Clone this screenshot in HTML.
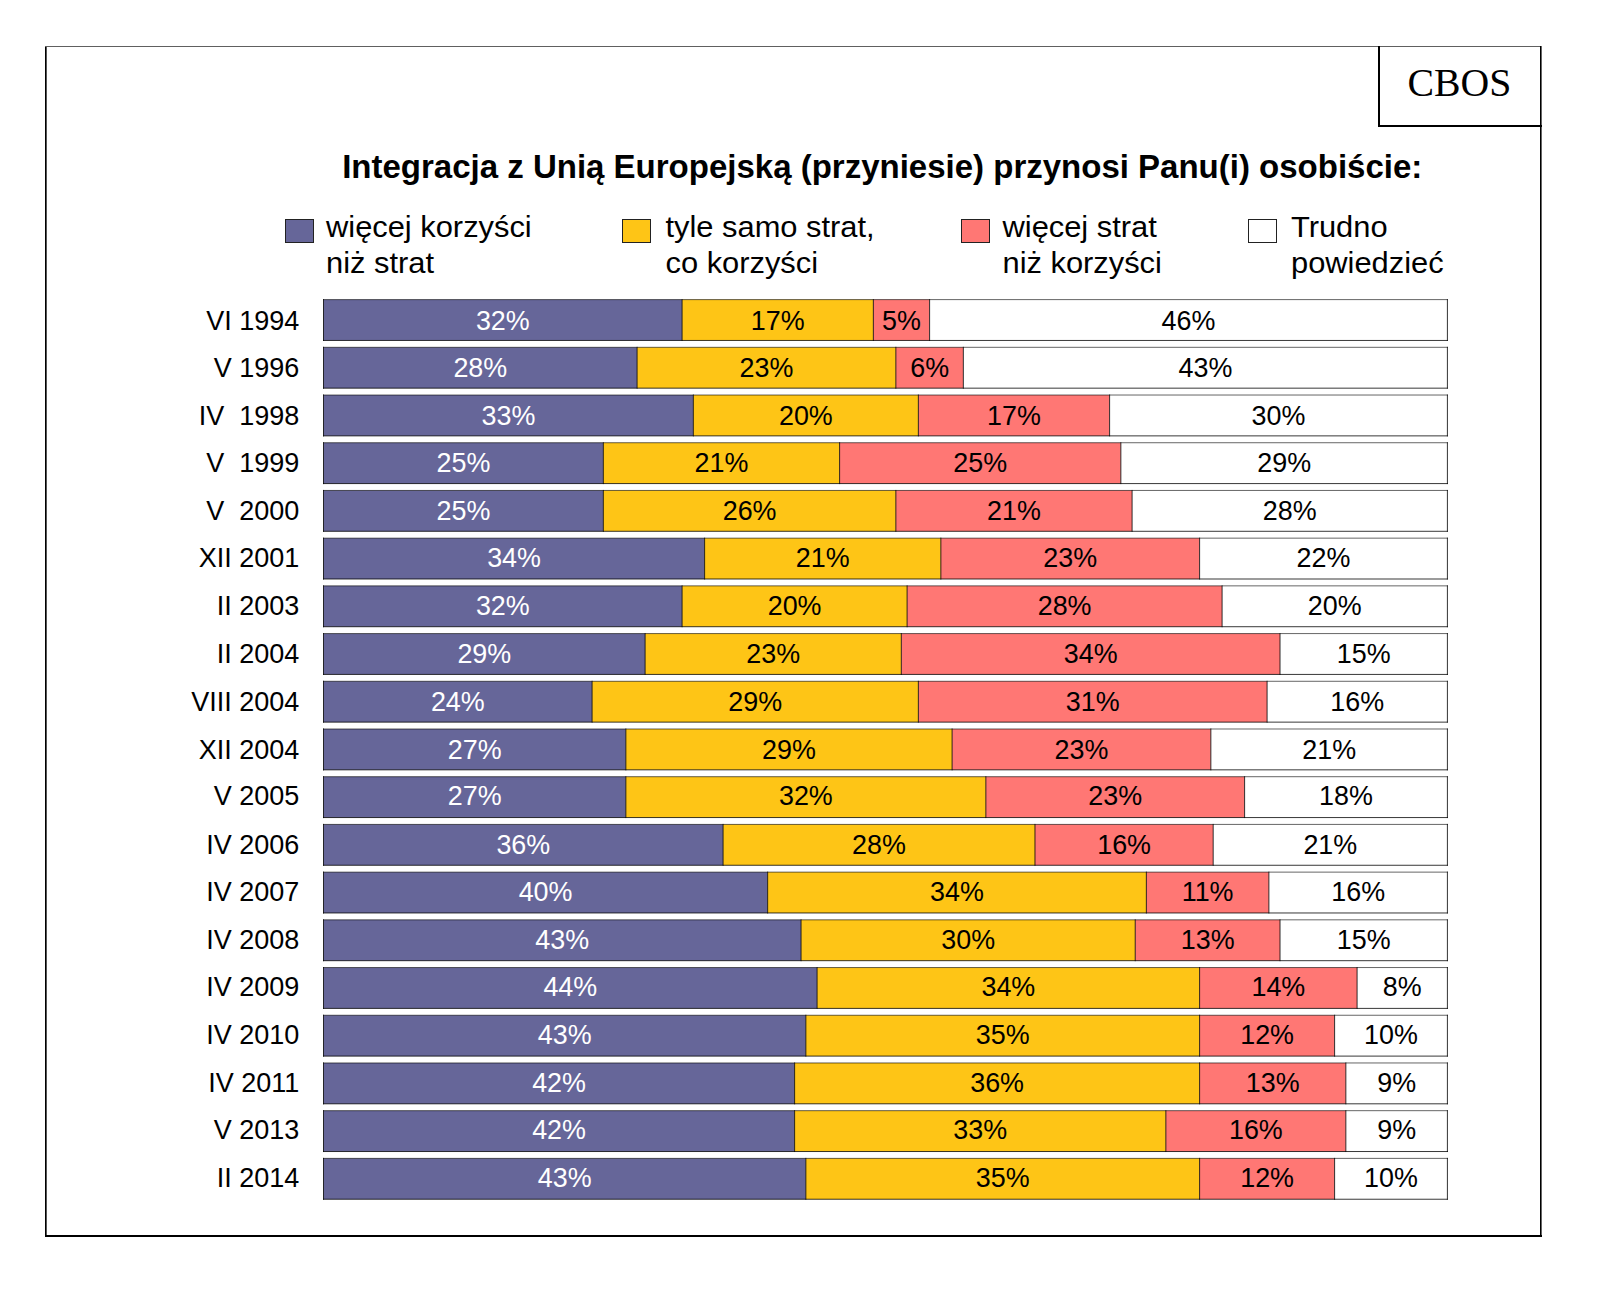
<!DOCTYPE html>
<html><head><meta charset="utf-8"><title>CBOS</title>
<style>
html,body{margin:0;padding:0;background:#fff;}
body{width:1600px;height:1293px;overflow:hidden;}
svg{display:block;}
.s{font-family:"Liberation Sans",Arial,sans-serif;}
.r{font-family:"Liberation Serif","Times New Roman",serif;}
</style></head><body>
<svg width="1600" height="1293" viewBox="0 0 1600 1293">
<rect x="0" y="0" width="1600" height="1293" fill="#fff"/>
<g shape-rendering="crispEdges">
<rect x="45" y="46" width="1" height="1190" fill="#000"/>
<rect x="46" y="46" width="1" height="1190" fill="#555"/>
<rect x="45" y="46" width="1496" height="1" fill="#606060"/>
<rect x="1540" y="46" width="1" height="1191" fill="#000"/>
<rect x="1541" y="46" width="1" height="1191" fill="#666"/>
<rect x="45" y="1235" width="1497" height="2" fill="#000"/>
<rect x="1378" y="46" width="2" height="81" fill="#000"/>
<rect x="1378" y="125" width="164" height="2" fill="#000"/>
</g>
<text class="r" transform="translate(1407.5 96) scale(0.97 1)" font-size="41" fill="#000">CBOS</text>
<text class="s" transform="translate(342.2 177.8)" font-size="33" font-weight="bold" fill="#000">Integracja z Unią Europejską (przyniesie) przynosi Panu(i) osobiście:</text>
<rect x="285.5" y="219.5" width="28" height="23" fill="#666699" stroke="#222" stroke-width="1"/>
<text class="s" transform="translate(326 236.9) scale(1.012 0.985)" font-size="30.5" fill="#000">więcej korzyści</text>
<text class="s" transform="translate(326 273.1) scale(1.012 0.985)" font-size="30.5" fill="#000">niż strat</text>
<rect x="622.5" y="219.5" width="28" height="23" fill="#FEC516" stroke="#222" stroke-width="1"/>
<text class="s" transform="translate(665.5 236.9) scale(1.012 0.985)" font-size="30.5" fill="#000">tyle samo strat,</text>
<text class="s" transform="translate(665.5 273.1) scale(1.012 0.985)" font-size="30.5" fill="#000">co korzyści</text>
<rect x="961.5" y="219.5" width="28" height="23" fill="#FF7774" stroke="#222" stroke-width="1"/>
<text class="s" transform="translate(1002.5 236.9) scale(1.012 0.985)" font-size="30.5" fill="#000">więcej strat</text>
<text class="s" transform="translate(1002.5 273.1) scale(1.012 0.985)" font-size="30.5" fill="#000">niż korzyści</text>
<rect x="1248.5" y="219.5" width="28" height="23" fill="#FFFFFF" stroke="#222" stroke-width="1"/>
<text class="s" transform="translate(1291 236.9) scale(1.012 0.985)" font-size="30.5" fill="#000">Trudno</text>
<text class="s" transform="translate(1291 273.1) scale(1.012 0.985)" font-size="30.5" fill="#000">powiedzieć</text>
<text class="s" transform="translate(299.2 329.9) scale(1 1.03)" font-size="27" text-anchor="end" fill="#000" xml:space="preserve">VI 1994</text>
<rect x="323.5" y="299.6" width="358.6" height="40.85" fill="#666699"/>
<rect x="682.1" y="299.6" width="191.25" height="40.85" fill="#FEC516"/>
<rect x="873.35" y="299.6" width="56.25" height="40.85" fill="#FF7774"/>
<rect x="929.6" y="299.6" width="517.8" height="40.85" fill="#FFFFFF"/>
<rect x="323" y="299.1" width="1124.9" height="1" fill="#000" fill-opacity="0.6"/>
<rect x="323" y="339.95" width="1124.9" height="1" fill="#000" fill-opacity="0.78"/>
<rect x="323" y="299.1" width="1" height="41.85" fill="#000" fill-opacity="0.8"/>
<rect x="681.6" y="299.1" width="1" height="41.85" fill="#000" fill-opacity="0.8"/>
<rect x="872.85" y="299.1" width="1" height="41.85" fill="#000" fill-opacity="0.8"/>
<rect x="929.1" y="299.1" width="1" height="41.85" fill="#000" fill-opacity="0.8"/>
<rect x="1446.9" y="299.1" width="1" height="41.85" fill="#000" fill-opacity="0.8"/>
<text class="s" transform="translate(502.8 329.9) scale(1 1.05)" font-size="26.9" text-anchor="middle" fill="#FFFFFF">32%</text>
<text class="s" transform="translate(777.73 329.9) scale(1 1.05)" font-size="26.9" text-anchor="middle" fill="#000000">17%</text>
<text class="s" transform="translate(901.48 329.9) scale(1 1.05)" font-size="26.9" text-anchor="middle" fill="#000000">5%</text>
<text class="s" transform="translate(1188.5 329.9) scale(1 1.05)" font-size="26.9" text-anchor="middle" fill="#000000">46%</text>
<text class="s" transform="translate(299.2 376.65) scale(1 1.03)" font-size="27" text-anchor="end" fill="#000" xml:space="preserve">V 1996</text>
<rect x="323.5" y="347.31" width="313.6" height="40.85" fill="#666699"/>
<rect x="637.1" y="347.31" width="258.75" height="40.85" fill="#FEC516"/>
<rect x="895.85" y="347.31" width="67.5" height="40.85" fill="#FF7774"/>
<rect x="963.35" y="347.31" width="484.05" height="40.85" fill="#FFFFFF"/>
<rect x="323" y="346.81" width="1124.9" height="1" fill="#000" fill-opacity="0.6"/>
<rect x="323" y="387.66" width="1124.9" height="1" fill="#000" fill-opacity="0.78"/>
<rect x="323" y="346.81" width="1" height="41.85" fill="#000" fill-opacity="0.8"/>
<rect x="636.6" y="346.81" width="1" height="41.85" fill="#000" fill-opacity="0.8"/>
<rect x="895.35" y="346.81" width="1" height="41.85" fill="#000" fill-opacity="0.8"/>
<rect x="962.85" y="346.81" width="1" height="41.85" fill="#000" fill-opacity="0.8"/>
<rect x="1446.9" y="346.81" width="1" height="41.85" fill="#000" fill-opacity="0.8"/>
<text class="s" transform="translate(480.3 376.65) scale(1 1.05)" font-size="26.9" text-anchor="middle" fill="#FFFFFF">28%</text>
<text class="s" transform="translate(766.48 376.65) scale(1 1.05)" font-size="26.9" text-anchor="middle" fill="#000000">23%</text>
<text class="s" transform="translate(929.6 376.65) scale(1 1.05)" font-size="26.9" text-anchor="middle" fill="#000000">6%</text>
<text class="s" transform="translate(1205.38 376.65) scale(1 1.05)" font-size="26.9" text-anchor="middle" fill="#000000">43%</text>
<text class="s" transform="translate(299.2 424.8) scale(1 1.03)" font-size="27" text-anchor="end" fill="#000" xml:space="preserve">IV  1998</text>
<rect x="323.5" y="395.02" width="369.85" height="40.85" fill="#666699"/>
<rect x="693.35" y="395.02" width="225" height="40.85" fill="#FEC516"/>
<rect x="918.35" y="395.02" width="191.25" height="40.85" fill="#FF7774"/>
<rect x="1109.6" y="395.02" width="337.8" height="40.85" fill="#FFFFFF"/>
<rect x="323" y="394.52" width="1124.9" height="1" fill="#000" fill-opacity="0.6"/>
<rect x="323" y="435.37" width="1124.9" height="1" fill="#000" fill-opacity="0.78"/>
<rect x="323" y="394.52" width="1" height="41.85" fill="#000" fill-opacity="0.8"/>
<rect x="692.85" y="394.52" width="1" height="41.85" fill="#000" fill-opacity="0.8"/>
<rect x="917.85" y="394.52" width="1" height="41.85" fill="#000" fill-opacity="0.8"/>
<rect x="1109.1" y="394.52" width="1" height="41.85" fill="#000" fill-opacity="0.8"/>
<rect x="1446.9" y="394.52" width="1" height="41.85" fill="#000" fill-opacity="0.8"/>
<text class="s" transform="translate(508.43 424.8) scale(1 1.05)" font-size="26.9" text-anchor="middle" fill="#FFFFFF">33%</text>
<text class="s" transform="translate(805.85 424.8) scale(1 1.05)" font-size="26.9" text-anchor="middle" fill="#000000">20%</text>
<text class="s" transform="translate(1013.97 424.8) scale(1 1.05)" font-size="26.9" text-anchor="middle" fill="#000000">17%</text>
<text class="s" transform="translate(1278.5 424.8) scale(1 1.05)" font-size="26.9" text-anchor="middle" fill="#000000">30%</text>
<text class="s" transform="translate(299.2 472.15) scale(1 1.03)" font-size="27" text-anchor="end" fill="#000" xml:space="preserve">V  1999</text>
<rect x="323.5" y="442.73" width="279.85" height="40.85" fill="#666699"/>
<rect x="603.35" y="442.73" width="236.25" height="40.85" fill="#FEC516"/>
<rect x="839.6" y="442.73" width="281.25" height="40.85" fill="#FF7774"/>
<rect x="1120.85" y="442.73" width="326.55" height="40.85" fill="#FFFFFF"/>
<rect x="323" y="442.23" width="1124.9" height="1" fill="#000" fill-opacity="0.6"/>
<rect x="323" y="483.08" width="1124.9" height="1" fill="#000" fill-opacity="0.78"/>
<rect x="323" y="442.23" width="1" height="41.85" fill="#000" fill-opacity="0.8"/>
<rect x="602.85" y="442.23" width="1" height="41.85" fill="#000" fill-opacity="0.8"/>
<rect x="839.1" y="442.23" width="1" height="41.85" fill="#000" fill-opacity="0.8"/>
<rect x="1120.35" y="442.23" width="1" height="41.85" fill="#000" fill-opacity="0.8"/>
<rect x="1446.9" y="442.23" width="1" height="41.85" fill="#000" fill-opacity="0.8"/>
<text class="s" transform="translate(463.43 472.15) scale(1 1.05)" font-size="26.9" text-anchor="middle" fill="#FFFFFF">25%</text>
<text class="s" transform="translate(721.48 472.15) scale(1 1.05)" font-size="26.9" text-anchor="middle" fill="#000000">21%</text>
<text class="s" transform="translate(980.22 472.15) scale(1 1.05)" font-size="26.9" text-anchor="middle" fill="#000000">25%</text>
<text class="s" transform="translate(1284.12 472.15) scale(1 1.05)" font-size="26.9" text-anchor="middle" fill="#000000">29%</text>
<text class="s" transform="translate(299.2 519.9) scale(1 1.03)" font-size="27" text-anchor="end" fill="#000" xml:space="preserve">V  2000</text>
<rect x="323.5" y="490.44" width="279.85" height="40.85" fill="#666699"/>
<rect x="603.35" y="490.44" width="292.5" height="40.85" fill="#FEC516"/>
<rect x="895.85" y="490.44" width="236.25" height="40.85" fill="#FF7774"/>
<rect x="1132.1" y="490.44" width="315.3" height="40.85" fill="#FFFFFF"/>
<rect x="323" y="489.94" width="1124.9" height="1" fill="#000" fill-opacity="0.6"/>
<rect x="323" y="530.79" width="1124.9" height="1" fill="#000" fill-opacity="0.78"/>
<rect x="323" y="489.94" width="1" height="41.85" fill="#000" fill-opacity="0.8"/>
<rect x="602.85" y="489.94" width="1" height="41.85" fill="#000" fill-opacity="0.8"/>
<rect x="895.35" y="489.94" width="1" height="41.85" fill="#000" fill-opacity="0.8"/>
<rect x="1131.6" y="489.94" width="1" height="41.85" fill="#000" fill-opacity="0.8"/>
<rect x="1446.9" y="489.94" width="1" height="41.85" fill="#000" fill-opacity="0.8"/>
<text class="s" transform="translate(463.43 519.9) scale(1 1.05)" font-size="26.9" text-anchor="middle" fill="#FFFFFF">25%</text>
<text class="s" transform="translate(749.6 519.9) scale(1 1.05)" font-size="26.9" text-anchor="middle" fill="#000000">26%</text>
<text class="s" transform="translate(1013.97 519.9) scale(1 1.05)" font-size="26.9" text-anchor="middle" fill="#000000">21%</text>
<text class="s" transform="translate(1289.75 519.9) scale(1 1.05)" font-size="26.9" text-anchor="middle" fill="#000000">28%</text>
<text class="s" transform="translate(299.2 566.95) scale(1 1.03)" font-size="27" text-anchor="end" fill="#000" xml:space="preserve">XII 2001</text>
<rect x="323.5" y="538.15" width="381.1" height="40.85" fill="#666699"/>
<rect x="704.6" y="538.15" width="236.25" height="40.85" fill="#FEC516"/>
<rect x="940.85" y="538.15" width="258.75" height="40.85" fill="#FF7774"/>
<rect x="1199.6" y="538.15" width="247.8" height="40.85" fill="#FFFFFF"/>
<rect x="323" y="537.65" width="1124.9" height="1" fill="#000" fill-opacity="0.6"/>
<rect x="323" y="578.5" width="1124.9" height="1" fill="#000" fill-opacity="0.78"/>
<rect x="323" y="537.65" width="1" height="41.85" fill="#000" fill-opacity="0.8"/>
<rect x="704.1" y="537.65" width="1" height="41.85" fill="#000" fill-opacity="0.8"/>
<rect x="940.35" y="537.65" width="1" height="41.85" fill="#000" fill-opacity="0.8"/>
<rect x="1199.1" y="537.65" width="1" height="41.85" fill="#000" fill-opacity="0.8"/>
<rect x="1446.9" y="537.65" width="1" height="41.85" fill="#000" fill-opacity="0.8"/>
<text class="s" transform="translate(514.05 566.95) scale(1 1.05)" font-size="26.9" text-anchor="middle" fill="#FFFFFF">34%</text>
<text class="s" transform="translate(822.73 566.95) scale(1 1.05)" font-size="26.9" text-anchor="middle" fill="#000000">21%</text>
<text class="s" transform="translate(1070.22 566.95) scale(1 1.05)" font-size="26.9" text-anchor="middle" fill="#000000">23%</text>
<text class="s" transform="translate(1323.5 566.95) scale(1 1.05)" font-size="26.9" text-anchor="middle" fill="#000000">22%</text>
<text class="s" transform="translate(299.2 615.3) scale(1 1.03)" font-size="27" text-anchor="end" fill="#000" xml:space="preserve">II 2003</text>
<rect x="323.5" y="585.86" width="358.6" height="40.85" fill="#666699"/>
<rect x="682.1" y="585.86" width="225" height="40.85" fill="#FEC516"/>
<rect x="907.1" y="585.86" width="315" height="40.85" fill="#FF7774"/>
<rect x="1222.1" y="585.86" width="225.3" height="40.85" fill="#FFFFFF"/>
<rect x="323" y="585.36" width="1124.9" height="1" fill="#000" fill-opacity="0.6"/>
<rect x="323" y="626.21" width="1124.9" height="1" fill="#000" fill-opacity="0.78"/>
<rect x="323" y="585.36" width="1" height="41.85" fill="#000" fill-opacity="0.8"/>
<rect x="681.6" y="585.36" width="1" height="41.85" fill="#000" fill-opacity="0.8"/>
<rect x="906.6" y="585.36" width="1" height="41.85" fill="#000" fill-opacity="0.8"/>
<rect x="1221.6" y="585.36" width="1" height="41.85" fill="#000" fill-opacity="0.8"/>
<rect x="1446.9" y="585.36" width="1" height="41.85" fill="#000" fill-opacity="0.8"/>
<text class="s" transform="translate(502.8 615.3) scale(1 1.05)" font-size="26.9" text-anchor="middle" fill="#FFFFFF">32%</text>
<text class="s" transform="translate(794.6 615.3) scale(1 1.05)" font-size="26.9" text-anchor="middle" fill="#000000">20%</text>
<text class="s" transform="translate(1064.6 615.3) scale(1 1.05)" font-size="26.9" text-anchor="middle" fill="#000000">28%</text>
<text class="s" transform="translate(1334.75 615.3) scale(1 1.05)" font-size="26.9" text-anchor="middle" fill="#000000">20%</text>
<text class="s" transform="translate(299.2 663.2) scale(1 1.03)" font-size="27" text-anchor="end" fill="#000" xml:space="preserve">II 2004</text>
<rect x="323.5" y="633.57" width="321.62" height="40.85" fill="#666699"/>
<rect x="645.12" y="633.57" width="256.19" height="40.85" fill="#FEC516"/>
<rect x="901.31" y="633.57" width="378.71" height="40.85" fill="#FF7774"/>
<rect x="1280.02" y="633.57" width="167.38" height="40.85" fill="#FFFFFF"/>
<rect x="323" y="633.07" width="1124.9" height="1" fill="#000" fill-opacity="0.6"/>
<rect x="323" y="673.92" width="1124.9" height="1" fill="#000" fill-opacity="0.78"/>
<rect x="323" y="633.07" width="1" height="41.85" fill="#000" fill-opacity="0.8"/>
<rect x="644.62" y="633.07" width="1" height="41.85" fill="#000" fill-opacity="0.8"/>
<rect x="900.81" y="633.07" width="1" height="41.85" fill="#000" fill-opacity="0.8"/>
<rect x="1279.52" y="633.07" width="1" height="41.85" fill="#000" fill-opacity="0.8"/>
<rect x="1446.9" y="633.07" width="1" height="41.85" fill="#000" fill-opacity="0.8"/>
<text class="s" transform="translate(484.31 663.2) scale(1 1.05)" font-size="26.9" text-anchor="middle" fill="#FFFFFF">29%</text>
<text class="s" transform="translate(773.21 663.2) scale(1 1.05)" font-size="26.9" text-anchor="middle" fill="#000000">23%</text>
<text class="s" transform="translate(1090.66 663.2) scale(1 1.05)" font-size="26.9" text-anchor="middle" fill="#000000">34%</text>
<text class="s" transform="translate(1363.71 663.2) scale(1 1.05)" font-size="26.9" text-anchor="middle" fill="#000000">15%</text>
<text class="s" transform="translate(299.2 710.8) scale(1 1.03)" font-size="27" text-anchor="end" fill="#000" xml:space="preserve">VIII 2004</text>
<rect x="323.5" y="681.28" width="268.6" height="40.85" fill="#666699"/>
<rect x="592.1" y="681.28" width="326.25" height="40.85" fill="#FEC516"/>
<rect x="918.35" y="681.28" width="348.75" height="40.85" fill="#FF7774"/>
<rect x="1267.1" y="681.28" width="180.3" height="40.85" fill="#FFFFFF"/>
<rect x="323" y="680.78" width="1124.9" height="1" fill="#000" fill-opacity="0.6"/>
<rect x="323" y="721.63" width="1124.9" height="1" fill="#000" fill-opacity="0.78"/>
<rect x="323" y="680.78" width="1" height="41.85" fill="#000" fill-opacity="0.8"/>
<rect x="591.6" y="680.78" width="1" height="41.85" fill="#000" fill-opacity="0.8"/>
<rect x="917.85" y="680.78" width="1" height="41.85" fill="#000" fill-opacity="0.8"/>
<rect x="1266.6" y="680.78" width="1" height="41.85" fill="#000" fill-opacity="0.8"/>
<rect x="1446.9" y="680.78" width="1" height="41.85" fill="#000" fill-opacity="0.8"/>
<text class="s" transform="translate(457.8 710.8) scale(1 1.05)" font-size="26.9" text-anchor="middle" fill="#FFFFFF">24%</text>
<text class="s" transform="translate(755.23 710.8) scale(1 1.05)" font-size="26.9" text-anchor="middle" fill="#000000">29%</text>
<text class="s" transform="translate(1092.72 710.8) scale(1 1.05)" font-size="26.9" text-anchor="middle" fill="#000000">31%</text>
<text class="s" transform="translate(1357.25 710.8) scale(1 1.05)" font-size="26.9" text-anchor="middle" fill="#000000">16%</text>
<text class="s" transform="translate(299.2 758.6) scale(1 1.03)" font-size="27" text-anchor="end" fill="#000" xml:space="preserve">XII 2004</text>
<rect x="323.5" y="728.99" width="302.35" height="40.85" fill="#666699"/>
<rect x="625.85" y="728.99" width="326.25" height="40.85" fill="#FEC516"/>
<rect x="952.1" y="728.99" width="258.75" height="40.85" fill="#FF7774"/>
<rect x="1210.85" y="728.99" width="236.55" height="40.85" fill="#FFFFFF"/>
<rect x="323" y="728.49" width="1124.9" height="1" fill="#000" fill-opacity="0.6"/>
<rect x="323" y="769.34" width="1124.9" height="1" fill="#000" fill-opacity="0.78"/>
<rect x="323" y="728.49" width="1" height="41.85" fill="#000" fill-opacity="0.8"/>
<rect x="625.35" y="728.49" width="1" height="41.85" fill="#000" fill-opacity="0.8"/>
<rect x="951.6" y="728.49" width="1" height="41.85" fill="#000" fill-opacity="0.8"/>
<rect x="1210.35" y="728.49" width="1" height="41.85" fill="#000" fill-opacity="0.8"/>
<rect x="1446.9" y="728.49" width="1" height="41.85" fill="#000" fill-opacity="0.8"/>
<text class="s" transform="translate(474.68 758.6) scale(1 1.05)" font-size="26.9" text-anchor="middle" fill="#FFFFFF">27%</text>
<text class="s" transform="translate(788.98 758.6) scale(1 1.05)" font-size="26.9" text-anchor="middle" fill="#000000">29%</text>
<text class="s" transform="translate(1081.47 758.6) scale(1 1.05)" font-size="26.9" text-anchor="middle" fill="#000000">23%</text>
<text class="s" transform="translate(1329.12 758.6) scale(1 1.05)" font-size="26.9" text-anchor="middle" fill="#000000">21%</text>
<text class="s" transform="translate(299.2 805.3) scale(1 1.03)" font-size="27" text-anchor="end" fill="#000" xml:space="preserve">V 2005</text>
<rect x="323.5" y="776.7" width="302.35" height="40.85" fill="#666699"/>
<rect x="625.85" y="776.7" width="360" height="40.85" fill="#FEC516"/>
<rect x="985.85" y="776.7" width="258.75" height="40.85" fill="#FF7774"/>
<rect x="1244.6" y="776.7" width="202.8" height="40.85" fill="#FFFFFF"/>
<rect x="323" y="776.2" width="1124.9" height="1" fill="#000" fill-opacity="0.6"/>
<rect x="323" y="817.05" width="1124.9" height="1" fill="#000" fill-opacity="0.78"/>
<rect x="323" y="776.2" width="1" height="41.85" fill="#000" fill-opacity="0.8"/>
<rect x="625.35" y="776.2" width="1" height="41.85" fill="#000" fill-opacity="0.8"/>
<rect x="985.35" y="776.2" width="1" height="41.85" fill="#000" fill-opacity="0.8"/>
<rect x="1244.1" y="776.2" width="1" height="41.85" fill="#000" fill-opacity="0.8"/>
<rect x="1446.9" y="776.2" width="1" height="41.85" fill="#000" fill-opacity="0.8"/>
<text class="s" transform="translate(474.68 805.3) scale(1 1.05)" font-size="26.9" text-anchor="middle" fill="#FFFFFF">27%</text>
<text class="s" transform="translate(805.85 805.3) scale(1 1.05)" font-size="26.9" text-anchor="middle" fill="#000000">32%</text>
<text class="s" transform="translate(1115.22 805.3) scale(1 1.05)" font-size="26.9" text-anchor="middle" fill="#000000">23%</text>
<text class="s" transform="translate(1346 805.3) scale(1 1.05)" font-size="26.9" text-anchor="middle" fill="#000000">18%</text>
<text class="s" transform="translate(299.2 853.6) scale(1 1.03)" font-size="27" text-anchor="end" fill="#000" xml:space="preserve">IV 2006</text>
<rect x="323.5" y="824.41" width="399.59" height="40.85" fill="#666699"/>
<rect x="723.09" y="824.41" width="311.88" height="40.85" fill="#FEC516"/>
<rect x="1034.97" y="824.41" width="178.22" height="40.85" fill="#FF7774"/>
<rect x="1213.19" y="824.41" width="234.21" height="40.85" fill="#FFFFFF"/>
<rect x="323" y="823.91" width="1124.9" height="1" fill="#000" fill-opacity="0.6"/>
<rect x="323" y="864.76" width="1124.9" height="1" fill="#000" fill-opacity="0.78"/>
<rect x="323" y="823.91" width="1" height="41.85" fill="#000" fill-opacity="0.8"/>
<rect x="722.59" y="823.91" width="1" height="41.85" fill="#000" fill-opacity="0.8"/>
<rect x="1034.47" y="823.91" width="1" height="41.85" fill="#000" fill-opacity="0.8"/>
<rect x="1212.69" y="823.91" width="1" height="41.85" fill="#000" fill-opacity="0.8"/>
<rect x="1446.9" y="823.91" width="1" height="41.85" fill="#000" fill-opacity="0.8"/>
<text class="s" transform="translate(523.3 853.6) scale(1 1.05)" font-size="26.9" text-anchor="middle" fill="#FFFFFF">36%</text>
<text class="s" transform="translate(879.03 853.6) scale(1 1.05)" font-size="26.9" text-anchor="middle" fill="#000000">28%</text>
<text class="s" transform="translate(1124.08 853.6) scale(1 1.05)" font-size="26.9" text-anchor="middle" fill="#000000">16%</text>
<text class="s" transform="translate(1330.29 853.6) scale(1 1.05)" font-size="26.9" text-anchor="middle" fill="#000000">21%</text>
<text class="s" transform="translate(299.2 900.8) scale(1 1.03)" font-size="27" text-anchor="end" fill="#000" xml:space="preserve">IV 2007</text>
<rect x="323.5" y="872.12" width="444.14" height="40.85" fill="#666699"/>
<rect x="767.64" y="872.12" width="378.71" height="40.85" fill="#FEC516"/>
<rect x="1146.36" y="872.12" width="122.52" height="40.85" fill="#FF7774"/>
<rect x="1268.88" y="872.12" width="178.52" height="40.85" fill="#FFFFFF"/>
<rect x="323" y="871.62" width="1124.9" height="1" fill="#000" fill-opacity="0.6"/>
<rect x="323" y="912.47" width="1124.9" height="1" fill="#000" fill-opacity="0.78"/>
<rect x="323" y="871.62" width="1" height="41.85" fill="#000" fill-opacity="0.8"/>
<rect x="767.14" y="871.62" width="1" height="41.85" fill="#000" fill-opacity="0.8"/>
<rect x="1145.86" y="871.62" width="1" height="41.85" fill="#000" fill-opacity="0.8"/>
<rect x="1268.38" y="871.62" width="1" height="41.85" fill="#000" fill-opacity="0.8"/>
<rect x="1446.9" y="871.62" width="1" height="41.85" fill="#000" fill-opacity="0.8"/>
<text class="s" transform="translate(545.57 900.8) scale(1 1.05)" font-size="26.9" text-anchor="middle" fill="#FFFFFF">40%</text>
<text class="s" transform="translate(957 900.8) scale(1 1.05)" font-size="26.9" text-anchor="middle" fill="#000000">34%</text>
<text class="s" transform="translate(1207.62 900.8) scale(1 1.05)" font-size="26.9" text-anchor="middle" fill="#000000">11%</text>
<text class="s" transform="translate(1358.14 900.8) scale(1 1.05)" font-size="26.9" text-anchor="middle" fill="#000000">16%</text>
<text class="s" transform="translate(299.2 948.75) scale(1 1.03)" font-size="27" text-anchor="end" fill="#000" xml:space="preserve">IV 2008</text>
<rect x="323.5" y="919.83" width="477.56" height="40.85" fill="#666699"/>
<rect x="801.06" y="919.83" width="334.16" height="40.85" fill="#FEC516"/>
<rect x="1135.22" y="919.83" width="144.8" height="40.85" fill="#FF7774"/>
<rect x="1280.02" y="919.83" width="167.38" height="40.85" fill="#FFFFFF"/>
<rect x="323" y="919.33" width="1124.9" height="1" fill="#000" fill-opacity="0.6"/>
<rect x="323" y="960.18" width="1124.9" height="1" fill="#000" fill-opacity="0.78"/>
<rect x="323" y="919.33" width="1" height="41.85" fill="#000" fill-opacity="0.8"/>
<rect x="800.56" y="919.33" width="1" height="41.85" fill="#000" fill-opacity="0.8"/>
<rect x="1134.72" y="919.33" width="1" height="41.85" fill="#000" fill-opacity="0.8"/>
<rect x="1279.52" y="919.33" width="1" height="41.85" fill="#000" fill-opacity="0.8"/>
<rect x="1446.9" y="919.33" width="1" height="41.85" fill="#000" fill-opacity="0.8"/>
<text class="s" transform="translate(562.28 948.75) scale(1 1.05)" font-size="26.9" text-anchor="middle" fill="#FFFFFF">43%</text>
<text class="s" transform="translate(968.14 948.75) scale(1 1.05)" font-size="26.9" text-anchor="middle" fill="#000000">30%</text>
<text class="s" transform="translate(1207.62 948.75) scale(1 1.05)" font-size="26.9" text-anchor="middle" fill="#000000">13%</text>
<text class="s" transform="translate(1363.71 948.75) scale(1 1.05)" font-size="26.9" text-anchor="middle" fill="#000000">15%</text>
<text class="s" transform="translate(299.2 995.9) scale(1 1.03)" font-size="27" text-anchor="end" fill="#000" xml:space="preserve">IV 2009</text>
<rect x="323.5" y="967.54" width="493.6" height="40.85" fill="#666699"/>
<rect x="817.1" y="967.54" width="382.5" height="40.85" fill="#FEC516"/>
<rect x="1199.6" y="967.54" width="157.5" height="40.85" fill="#FF7774"/>
<rect x="1357.1" y="967.54" width="90.3" height="40.85" fill="#FFFFFF"/>
<rect x="323" y="967.04" width="1124.9" height="1" fill="#000" fill-opacity="0.6"/>
<rect x="323" y="1007.89" width="1124.9" height="1" fill="#000" fill-opacity="0.78"/>
<rect x="323" y="967.04" width="1" height="41.85" fill="#000" fill-opacity="0.8"/>
<rect x="816.6" y="967.04" width="1" height="41.85" fill="#000" fill-opacity="0.8"/>
<rect x="1199.1" y="967.04" width="1" height="41.85" fill="#000" fill-opacity="0.8"/>
<rect x="1356.6" y="967.04" width="1" height="41.85" fill="#000" fill-opacity="0.8"/>
<rect x="1446.9" y="967.04" width="1" height="41.85" fill="#000" fill-opacity="0.8"/>
<text class="s" transform="translate(570.3 995.9) scale(1 1.05)" font-size="26.9" text-anchor="middle" fill="#FFFFFF">44%</text>
<text class="s" transform="translate(1008.35 995.9) scale(1 1.05)" font-size="26.9" text-anchor="middle" fill="#000000">34%</text>
<text class="s" transform="translate(1278.35 995.9) scale(1 1.05)" font-size="26.9" text-anchor="middle" fill="#000000">14%</text>
<text class="s" transform="translate(1402.25 995.9) scale(1 1.05)" font-size="26.9" text-anchor="middle" fill="#000000">8%</text>
<text class="s" transform="translate(299.2 1044.15) scale(1 1.03)" font-size="27" text-anchor="end" fill="#000" xml:space="preserve">IV 2010</text>
<rect x="323.5" y="1015.25" width="482.35" height="40.85" fill="#666699"/>
<rect x="805.85" y="1015.25" width="393.75" height="40.85" fill="#FEC516"/>
<rect x="1199.6" y="1015.25" width="135" height="40.85" fill="#FF7774"/>
<rect x="1334.6" y="1015.25" width="112.8" height="40.85" fill="#FFFFFF"/>
<rect x="323" y="1014.75" width="1124.9" height="1" fill="#000" fill-opacity="0.6"/>
<rect x="323" y="1055.6" width="1124.9" height="1" fill="#000" fill-opacity="0.78"/>
<rect x="323" y="1014.75" width="1" height="41.85" fill="#000" fill-opacity="0.8"/>
<rect x="805.35" y="1014.75" width="1" height="41.85" fill="#000" fill-opacity="0.8"/>
<rect x="1199.1" y="1014.75" width="1" height="41.85" fill="#000" fill-opacity="0.8"/>
<rect x="1334.1" y="1014.75" width="1" height="41.85" fill="#000" fill-opacity="0.8"/>
<rect x="1446.9" y="1014.75" width="1" height="41.85" fill="#000" fill-opacity="0.8"/>
<text class="s" transform="translate(564.67 1044.15) scale(1 1.05)" font-size="26.9" text-anchor="middle" fill="#FFFFFF">43%</text>
<text class="s" transform="translate(1002.72 1044.15) scale(1 1.05)" font-size="26.9" text-anchor="middle" fill="#000000">35%</text>
<text class="s" transform="translate(1267.1 1044.15) scale(1 1.05)" font-size="26.9" text-anchor="middle" fill="#000000">12%</text>
<text class="s" transform="translate(1391 1044.15) scale(1 1.05)" font-size="26.9" text-anchor="middle" fill="#000000">10%</text>
<text class="s" transform="translate(299.2 1092) scale(1 1.03)" font-size="27" text-anchor="end" fill="#000" xml:space="preserve">IV 2011</text>
<rect x="323.5" y="1062.96" width="471.1" height="40.85" fill="#666699"/>
<rect x="794.6" y="1062.96" width="405" height="40.85" fill="#FEC516"/>
<rect x="1199.6" y="1062.96" width="146.25" height="40.85" fill="#FF7774"/>
<rect x="1345.85" y="1062.96" width="101.55" height="40.85" fill="#FFFFFF"/>
<rect x="323" y="1062.46" width="1124.9" height="1" fill="#000" fill-opacity="0.6"/>
<rect x="323" y="1103.31" width="1124.9" height="1" fill="#000" fill-opacity="0.78"/>
<rect x="323" y="1062.46" width="1" height="41.85" fill="#000" fill-opacity="0.8"/>
<rect x="794.1" y="1062.46" width="1" height="41.85" fill="#000" fill-opacity="0.8"/>
<rect x="1199.1" y="1062.46" width="1" height="41.85" fill="#000" fill-opacity="0.8"/>
<rect x="1345.35" y="1062.46" width="1" height="41.85" fill="#000" fill-opacity="0.8"/>
<rect x="1446.9" y="1062.46" width="1" height="41.85" fill="#000" fill-opacity="0.8"/>
<text class="s" transform="translate(559.05 1092) scale(1 1.05)" font-size="26.9" text-anchor="middle" fill="#FFFFFF">42%</text>
<text class="s" transform="translate(997.1 1092) scale(1 1.05)" font-size="26.9" text-anchor="middle" fill="#000000">36%</text>
<text class="s" transform="translate(1272.72 1092) scale(1 1.05)" font-size="26.9" text-anchor="middle" fill="#000000">13%</text>
<text class="s" transform="translate(1396.62 1092) scale(1 1.05)" font-size="26.9" text-anchor="middle" fill="#000000">9%</text>
<text class="s" transform="translate(299.2 1139) scale(1 1.03)" font-size="27" text-anchor="end" fill="#000" xml:space="preserve">V 2013</text>
<rect x="323.5" y="1110.67" width="471.1" height="40.85" fill="#666699"/>
<rect x="794.6" y="1110.67" width="371.25" height="40.85" fill="#FEC516"/>
<rect x="1165.85" y="1110.67" width="180" height="40.85" fill="#FF7774"/>
<rect x="1345.85" y="1110.67" width="101.55" height="40.85" fill="#FFFFFF"/>
<rect x="323" y="1110.17" width="1124.9" height="1" fill="#000" fill-opacity="0.6"/>
<rect x="323" y="1151.02" width="1124.9" height="1" fill="#000" fill-opacity="0.78"/>
<rect x="323" y="1110.17" width="1" height="41.85" fill="#000" fill-opacity="0.8"/>
<rect x="794.1" y="1110.17" width="1" height="41.85" fill="#000" fill-opacity="0.8"/>
<rect x="1165.35" y="1110.17" width="1" height="41.85" fill="#000" fill-opacity="0.8"/>
<rect x="1345.35" y="1110.17" width="1" height="41.85" fill="#000" fill-opacity="0.8"/>
<rect x="1446.9" y="1110.17" width="1" height="41.85" fill="#000" fill-opacity="0.8"/>
<text class="s" transform="translate(559.05 1139) scale(1 1.05)" font-size="26.9" text-anchor="middle" fill="#FFFFFF">42%</text>
<text class="s" transform="translate(980.22 1139) scale(1 1.05)" font-size="26.9" text-anchor="middle" fill="#000000">33%</text>
<text class="s" transform="translate(1255.85 1139) scale(1 1.05)" font-size="26.9" text-anchor="middle" fill="#000000">16%</text>
<text class="s" transform="translate(1396.62 1139) scale(1 1.05)" font-size="26.9" text-anchor="middle" fill="#000000">9%</text>
<text class="s" transform="translate(299.2 1187.3) scale(1 1.03)" font-size="27" text-anchor="end" fill="#000" xml:space="preserve">II 2014</text>
<rect x="323.5" y="1158.38" width="482.35" height="40.85" fill="#666699"/>
<rect x="805.85" y="1158.38" width="393.75" height="40.85" fill="#FEC516"/>
<rect x="1199.6" y="1158.38" width="135" height="40.85" fill="#FF7774"/>
<rect x="1334.6" y="1158.38" width="112.8" height="40.85" fill="#FFFFFF"/>
<rect x="323" y="1157.88" width="1124.9" height="1" fill="#000" fill-opacity="0.6"/>
<rect x="323" y="1198.73" width="1124.9" height="1" fill="#000" fill-opacity="0.78"/>
<rect x="323" y="1157.88" width="1" height="41.85" fill="#000" fill-opacity="0.8"/>
<rect x="805.35" y="1157.88" width="1" height="41.85" fill="#000" fill-opacity="0.8"/>
<rect x="1199.1" y="1157.88" width="1" height="41.85" fill="#000" fill-opacity="0.8"/>
<rect x="1334.1" y="1157.88" width="1" height="41.85" fill="#000" fill-opacity="0.8"/>
<rect x="1446.9" y="1157.88" width="1" height="41.85" fill="#000" fill-opacity="0.8"/>
<text class="s" transform="translate(564.67 1187.3) scale(1 1.05)" font-size="26.9" text-anchor="middle" fill="#FFFFFF">43%</text>
<text class="s" transform="translate(1002.72 1187.3) scale(1 1.05)" font-size="26.9" text-anchor="middle" fill="#000000">35%</text>
<text class="s" transform="translate(1267.1 1187.3) scale(1 1.05)" font-size="26.9" text-anchor="middle" fill="#000000">12%</text>
<text class="s" transform="translate(1391 1187.3) scale(1 1.05)" font-size="26.9" text-anchor="middle" fill="#000000">10%</text>
</svg>
</body></html>
